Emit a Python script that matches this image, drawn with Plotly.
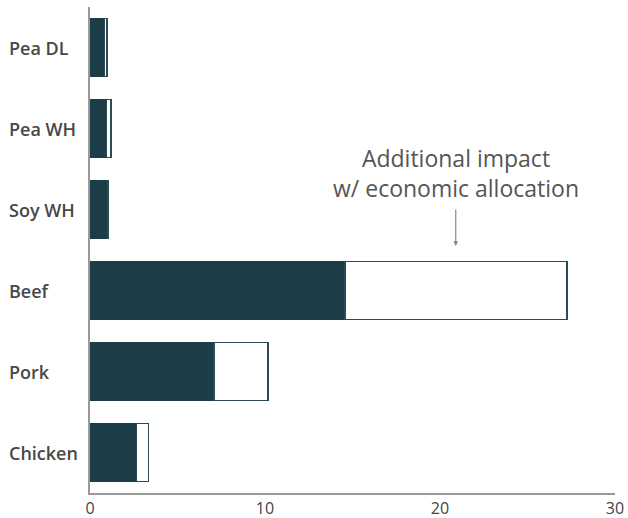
import plotly.graph_objects as go

categories = ["Pea DL", "Pea WH", "Soy WH", "Beef", "Pork", "Chicken"]
base_impact = [0.82, 0.95, 1.01, 14.57, 7.09, 2.67]
additional_impact = [0.15, 0.25, 0.06, 12.69, 3.08, 0.66]
x_ticks = [0, 10, 20, 30]

DARK = "#1b3d47"
TEXT = "#444444"
FONT = "Open Sans"

fig = go.Figure()
fig.add_trace(go.Bar(
    y=categories, x=base_impact, orientation="h",
    marker=dict(color=DARK, line=dict(color=DARK, width=0.5)),
    width=0.72, showlegend=False, hoverinfo="x+y",
))
fig.add_trace(go.Bar(
    y=categories, x=additional_impact, orientation="h",
    marker=dict(color="white", line=dict(color="#2b4b55", width=1.5)),
    width=0.72, showlegend=False, hoverinfo="x+y",
))

annotations = []
for c in categories:
    annotations.append(dict(
        x=-0.158, xref="paper", y=c, yref="y", text=c, showarrow=False,
        xanchor="left", yanchor="middle",
        font=dict(family=FONT, size=18, color="#484848", weight=600),
    ))
annotations.append(dict(
    x=20.9, xref="x", y=0.658, yref="paper",
    text="Additional impact<br>w/ economic allocation", showarrow=False,
    xanchor="center", yanchor="middle",
    font=dict(family=FONT, size=23, color="#555555"),
))
annotations.append(dict(
    x=20.9, xref="x", y=0.508, yref="paper", text="",
    showarrow=True, arrowhead=2, arrowsize=0.8, arrowwidth=1.2,
    arrowcolor="#888888", ax=0, ay=-38,
))

fig.update_layout(
    barmode="stack",
    autosize=False,
    width=628, height=518,
    margin=dict(l=90, r=13, t=7, b=25, autoexpand=False),
    plot_bgcolor="white", paper_bgcolor="white",
    xaxis=dict(
        range=[0, 30], tickvals=x_ticks, showgrid=False, zeroline=False,
        showline=True, linecolor="#999999", linewidth=2, ticks="",
        automargin=False,
        tickfont=dict(family=FONT, size=16, color=TEXT),
    ),
    yaxis=dict(
        categoryorder="array", categoryarray=categories, autorange="reversed",
        showticklabels=False, showgrid=False, zeroline=False, automargin=False,
        showline=True, linecolor="#999999", linewidth=2, ticks="",
    ),
    annotations=annotations,
)

fig.write_html("out.html", config={"displayModeBar": False},
               post_script="document.body.style.margin='0';")
